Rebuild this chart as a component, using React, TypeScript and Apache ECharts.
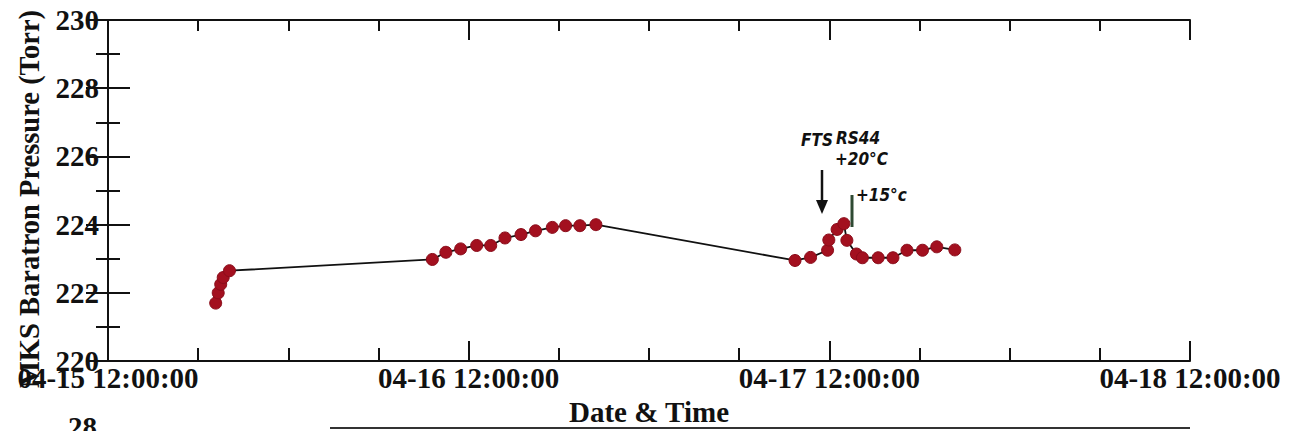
import React, { useEffect, useRef } from "react";
import * as echarts from "echarts";

// Measurement times (MM-DD HH:mm) and MKS Baratron pressure (Torr)
const times: string[] = [
  "04-15 19:10", "04-15 19:20", "04-15 19:30", "04-15 19:40", "04-15 20:05",
  "04-16 09:35", "04-16 10:29", "04-16 11:28", "04-16 12:32", "04-16 13:28", "04-16 14:25",
  "04-16 15:29", "04-16 16:27", "04-16 17:34", "04-16 18:27", "04-16 19:24", "04-16 20:28",
  "04-17 09:43", "04-17 10:45", "04-17 11:53", "04-17 11:58", "04-17 12:31", "04-17 12:58",
  "04-17 13:10", "04-17 13:48", "04-17 14:12", "04-17 15:15", "04-17 16:14", "04-17 17:10",
  "04-17 18:12", "04-17 19:09", "04-17 20:21",
];
const pressures: number[] = [
  221.7, 222.0, 222.25, 222.45, 222.65,
  222.98, 223.19, 223.29, 223.39, 223.39, 223.61,
  223.71, 223.82, 223.92, 223.97, 223.97, 224.0,
  222.95, 223.04, 223.25, 223.55, 223.86, 224.03,
  223.54, 223.14, 223.03, 223.03, 223.03, 223.25,
  223.25, 223.35, 223.26,
];

// Axis settings: hours counted from 04-15 12:00:00
const xMin = 0;
const xMax = 72;
const xInterval = 24;
const yMin = 220;
const yMax = 230;
const yInterval = 2;

const SERIF = "'Liberation Serif', 'Times New Roman', serif";
const HAND = "'DejaVu Sans Condensed', 'DejaVu Sans', sans-serif";

function toHours(t: string): number {
  const [md, hm] = t.split(" ");
  const day = parseInt(md.split("-")[1], 10);
  const [h, m] = hm.split(":").map((s) => parseInt(s, 10));
  return (day - 15) * 24 + h - 12 + m / 60;
}

function fmtHours(v: number): string {
  const total = v + 12;
  const day = 15 + Math.floor(total / 24);
  const hour = Math.round(total % 24);
  const pad = (n: number) => (n < 10 ? "0" + n : "" + n);
  return `04-${pad(day)} ${pad(hour)}:00:00`;
}

export default function App() {
  const ref = useRef<HTMLDivElement>(null);

  useEffect(() => {
    if (!ref.current) return;
    const chart = echarts.init(ref.current, undefined, { renderer: "svg" });
    const data = times.map((t, i) => [toHours(t), pressures[i]]);
    const lineStyle = { color: "#111", width: 2 };
    const tickFont = { color: "#111", fontFamily: SERIF, fontSize: 29, fontWeight: "bold" as const };
    const hand = { fontFamily: HAND, fontSize: 17, fontWeight: "bold" as const, fontStyle: "italic" as const, fill: "#111" };

    chart.setOption({
      animation: false,
      backgroundColor: "#fff",
      grid: { left: 108, right: 100, top: 20, bottom: 65 },
      xAxis: [
        {
          type: "value",
          min: xMin,
          max: xMax,
          interval: xInterval,
          position: "bottom",
          axisLine: { show: true, lineStyle },
          axisTick: { show: true, inside: true, length: 20, lineStyle },
          minorTick: { show: true, splitNumber: 4, length: 13, lineStyle: { color: "#111", width: 2 } },
          splitLine: { show: false },
          axisLabel: { formatter: (v: number) => fmtHours(v), ...tickFont, margin: 2 },
          name: "Date & Time",
          nameLocation: "middle",
          nameGap: 34,
          nameTextStyle: { color: "#111", fontFamily: SERIF, fontSize: 29, fontWeight: "bold" },
        },
        {
          type: "value",
          min: xMin,
          max: xMax,
          interval: xInterval,
          position: "top",
          axisLine: { show: true, lineStyle },
          axisTick: { show: true, inside: true, length: 20, lineStyle },
          minorTick: { show: true, splitNumber: 4, length: 11, lineStyle: { color: "#111", width: 2 } },
          splitLine: { show: false },
          axisLabel: { show: false },
        },
      ],
      yAxis: [
        {
          type: "value",
          min: yMin,
          max: yMax,
          interval: yInterval,
          position: "left",
          axisLine: { show: true, lineStyle },
          axisTick: { show: true, inside: true, length: 22, lineStyle },
          minorTick: { show: true, splitNumber: 2, length: 12, lineStyle: { color: "#111", width: 2 } },
          splitLine: { show: false },
          axisLabel: { ...tickFont, margin: 9 },
        },
        {
          type: "value",
          min: yMin,
          max: yMax,
          interval: yInterval,
          position: "right",
          axisLine: { show: true, lineStyle },
          axisTick: { show: true, inside: true, length: 22, lineStyle },
          minorTick: { show: true, splitNumber: 2, length: 12, lineStyle: { color: "#111", width: 2 } },
          splitLine: { show: false },
          axisLabel: { show: false },
        },
      ],
      series: [
        {
          type: "line",
          xAxisIndex: 0,
          yAxisIndex: 0,
          data,
          symbol: "circle",
          symbolSize: 12,
          lineStyle: { color: "#111", width: 1.8 },
          itemStyle: { color: "#a3101f", borderColor: "#8a0c1a", borderWidth: 1 },
          z: 3,
        },
      ],
      graphic: [
        // y-axis title
        {
          type: "text",
          x: 29,
          y: 199,
          rotation: Math.PI / 2,
          style: {
            text: "MKS Baratron Pressure (Torr)",
            fontFamily: SERIF,
            fontSize: 28.5,
            fontWeight: "bold",
            fill: "#111",
            align: "center",
            verticalAlign: "middle",
          },
        },
        // handwritten annotations
        { type: "text", left: 801, top: 131, style: { text: "FTS", ...hand } },
        { type: "text", left: 836, top: 129, style: { text: "RS44", ...hand } },
        { type: "text", left: 835, top: 150, style: { text: "+20°C", ...hand } },
        { type: "line", shape: { x1: 822, y1: 170, x2: 822, y2: 205 }, style: { stroke: "#111", lineWidth: 2.5 } },
        { type: "polygon", shape: { points: [[816, 200], [828, 200], [822, 214]] }, style: { fill: "#111" } },
        { type: "line", shape: { x1: 852, y1: 195, x2: 852, y2: 227 }, style: { stroke: "#2f4a33", lineWidth: 3 } },
        { type: "text", left: 856, top: 186, style: { text: "+15°c", ...hand } },
        // top of the next panel, cut off by the page edge
        { type: "line", shape: { x1: 330, y1: 428, x2: 1190, y2: 428 }, style: { stroke: "#333", lineWidth: 2 } },
        { type: "text", left: 68, top: 412, style: { text: "28", fontFamily: SERIF, fontSize: 29, fontWeight: "bold", fill: "#111" } },
      ],
    });

    return () => chart.dispose();
  }, []);

  return (
    <div
      ref={ref}
      style={{ position: "absolute", left: 0, top: 0, width: 1290, height: 431, overflow: "hidden" }}
    />
  );
}
